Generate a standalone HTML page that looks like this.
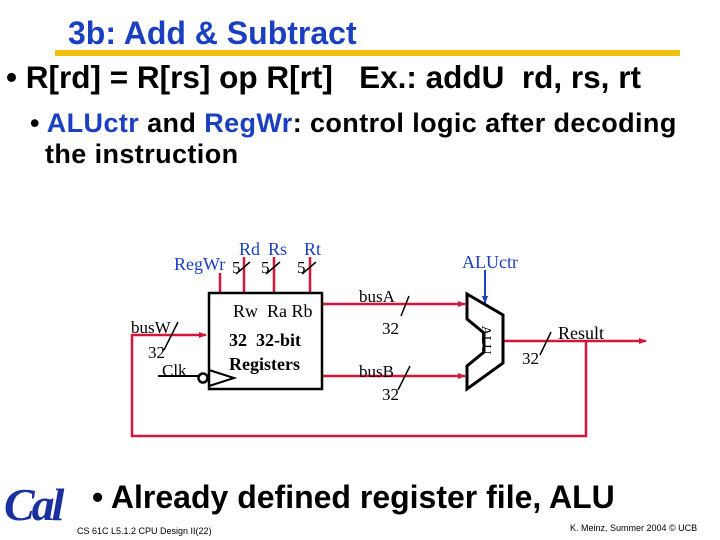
<!DOCTYPE html>
<html><head><meta charset="utf-8"><style>
body{margin:0;width:720px;height:540px;background:#fff;overflow:hidden;position:relative;font-family:"Liberation Sans",sans-serif}
.t{position:absolute;white-space:nowrap}
</style></head><body>
<div class="t" style="left:68px;top:15px;font-size:32px;font-weight:bold;color:#1a3fc0">3b: Add &amp; Subtract</div>
<div style="position:absolute;left:55px;top:50px;width:625px;height:6px;background:#f2c10f"></div>
<div class="t" style="left:6px;top:59px;font-size:31.5px;font-weight:bold;color:#000">• R[rd] = R[rs] op R[rt] &nbsp;&nbsp;Ex.: addU &nbsp;rd, rs, rt</div>
<div class="t" style="left:30px;top:108px;font-size:27px;font-weight:bold;letter-spacing:0.4px;color:#000">• <span style="color:#1a3fc0">ALUctr</span> and <span style="color:#1a3fc0">RegWr</span>: control logic after decoding</div>
<div class="t" style="left:45px;top:139px;font-size:27px;font-weight:bold;letter-spacing:0.4px;color:#000">the instruction</div>

<svg width="720" height="540" style="position:absolute;left:0;top:0" font-family="Liberation Serif,serif">
<defs><marker id="ar" markerWidth="8" markerHeight="8" refX="7" refY="4" orient="auto" markerUnits="userSpaceOnUse"><path d="M0,1 L8,4 L0,7z" fill="#d4163a"/></marker>
<marker id="ab" markerWidth="8" markerHeight="8" refX="7" refY="4" orient="auto" markerUnits="userSpaceOnUse"><path d="M0,1 L8,4 L0,7z" fill="#1a3fc0"/></marker></defs>
<g stroke="#d4163a" stroke-width="2.5" fill="none">
<polyline points="586,341 586,436 132,436 132,335 206,335" marker-end="url(#ar)"/>
<line x1="322" y1="304" x2="465" y2="304" marker-end="url(#ar)"/>
<line x1="322" y1="376" x2="465" y2="376" marker-end="url(#ar)"/>
<line x1="503" y1="341" x2="646" y2="341" marker-end="url(#ar)"/>
<line x1="220" y1="273" x2="220" y2="293"/>
<line x1="244" y1="257" x2="244" y2="293"/>
<line x1="274" y1="257" x2="274" y2="293"/>
<line x1="310" y1="257" x2="310" y2="293"/>
</g>
<line x1="485" y1="270" x2="485" y2="303" stroke="#1a3fc0" stroke-width="2" marker-end="url(#ab)"/>
<rect x="209" y="293" width="113" height="96" fill="none" stroke="#000" stroke-width="2.5"/>
<polygon points="467,294 503,315 503,363 467,389 467,366 484,352 484,333 467,319" fill="#fff" stroke="#000" stroke-width="3"/>
<g stroke="#000" stroke-width="1.5">
<line x1="158" y1="376" x2="199" y2="376" stroke-width="2"/>
<polyline points="209,370 234,378 209,386" fill="none" stroke-width="2"/>
<line x1="236" y1="274" x2="250" y2="262"/><line x1="266" y1="274" x2="280" y2="262"/><line x1="302" y1="274" x2="316" y2="262"/>
<line x1="164" y1="350" x2="178" y2="322"/>
<line x1="401" y1="316" x2="409" y2="296"/><line x1="398" y1="390" x2="410" y2="366"/>
<line x1="540" y1="355" x2="551" y2="332"/>
</g>
<circle cx="203" cy="378" r="4.5" fill="#fff" stroke="#000" stroke-width="2.5"/>
<g font-size="18" fill="#1a3fc0">
<text x="174" y="270">RegWr</text><text x="239" y="255">Rd</text><text x="268" y="255">Rs</text><text x="304" y="255">Rt</text>
<text x="462" y="268">ALUctr</text></g>
<g font-size="17" fill="#000">
<text x="232" y="273">5</text><text x="261" y="273">5</text><text x="297" y="273">5</text>
<text x="233" y="317" font-size="18">Rw&#160;&#160;Ra&#160;Rb</text>
<text x="131" y="333">busW</text><text x="148" y="358">32</text><text x="162" y="376">Clk</text>
<text x="359" y="302">busA</text><text x="382" y="334">32</text>
<text x="359" y="377">busB</text><text x="382" y="400">32</text>
<text x="558" y="339" font-size="18">Result</text><text x="522" y="364">32</text>
<text transform="translate(482,340) rotate(90)" font-size="14" text-anchor="middle">ALU</text>
</g>
<g font-size="18" font-weight="bold" fill="#000"><text x="229" y="346">32&#160;&#160;32-bit</text><text x="229" y="370">Registers</text></g>
</svg>

<div class="t" style="left:4px;top:478px;font-size:46px;font-style:italic;font-weight:bold;font-family:'Liberation Serif',serif;color:#1a2fa0;letter-spacing:-3px">Cal</div>
<div class="t" style="left:92px;top:479px;font-size:32px;font-weight:bold;color:#000">• Already defined register file, ALU</div>
<div class="t" style="left:77px;top:526px;font-size:9px;color:#000">CS 61C L5.1.2 CPU Design II(22)</div>
<div class="t" style="left:570px;top:523px;font-size:9px;color:#000">K. Meinz, Summer 2004 © UCB</div>
</body></html>
